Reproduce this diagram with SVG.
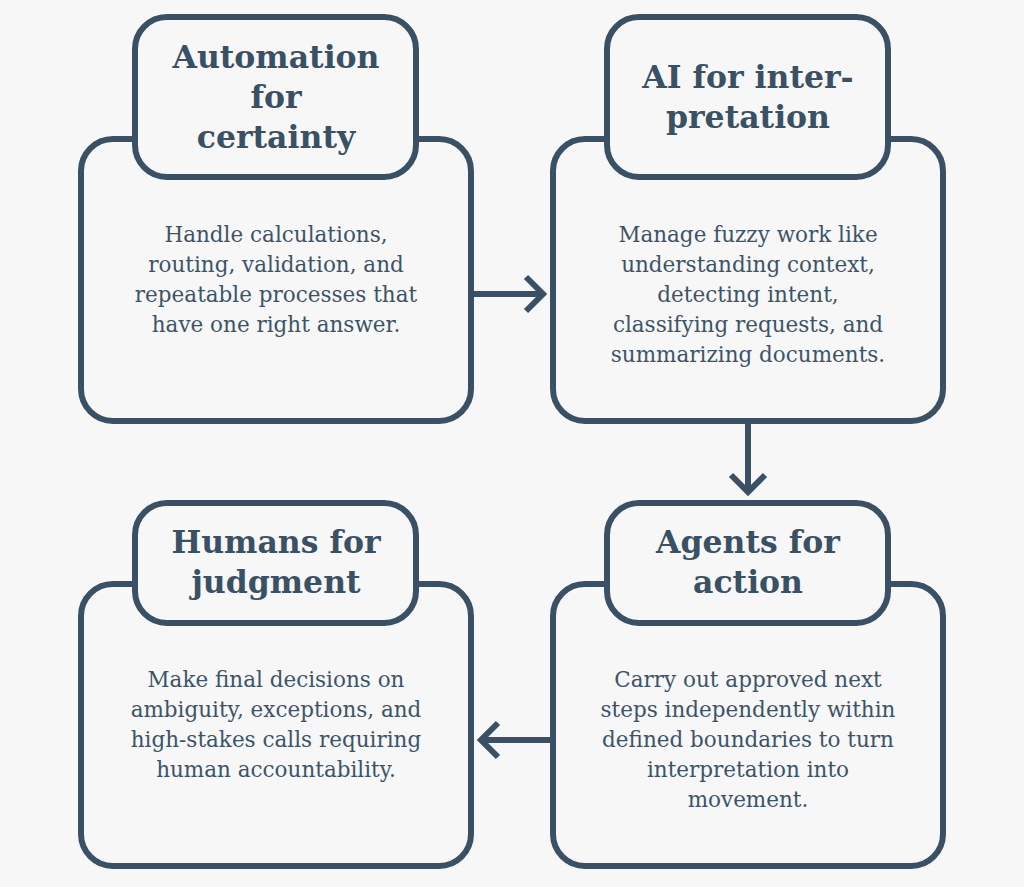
<svg xmlns="http://www.w3.org/2000/svg" width="1024" height="887" viewBox="0 0 1024 887">
  <style>
    .box { fill: #f7f7f7; stroke: #3a5064; stroke-width: 6; }
    .title { font-family: "DejaVu Serif", "Liberation Serif", serif; font-weight: bold; font-size: 31.5px; fill: #3a5064; text-anchor: middle; }
    .body { font-family: "DejaVu Serif", "Liberation Serif", serif; font-size: 21.5px; fill: #3d5468; text-anchor: middle; }
    .conn { fill: none; stroke: #3a5064; stroke-width: 6; stroke-linejoin: miter; }
  </style>
  <rect x="0" y="0" width="1024" height="887" fill="#f7f7f7"/>

  <g id="connectors">
    <line class="conn" x1="474" y1="294" x2="542" y2="294"/>
    <polyline class="conn" points="526,277 543,294 526,311"/>
    <line class="conn" x1="748" y1="424" x2="748" y2="491"/>
    <polyline class="conn" points="731,475 748,492 765,475"/>
    <line class="conn" x1="550" y1="740" x2="482" y2="740"/>
    <polyline class="conn" points="498,723 481,740 498,757"/>
  </g>

  <g id="node-automation">
    <rect class="box" x="81" y="139" width="390" height="282" rx="32"/>
    <rect class="box" x="135" y="17" width="281" height="160" rx="32"/>
    <text class="title" x="276" y="68">Automation</text>
    <text class="title" x="276" y="108">for</text>
    <text class="title" x="276" y="148">certainty</text>
    <text class="body" x="276" y="242">Handle calculations,</text>
    <text class="body" x="276" y="272">routing, validation, and</text>
    <text class="body" x="276" y="302">repeatable processes that</text>
    <text class="body" x="276" y="332">have one right answer.</text>
  </g>

  <g id="node-ai">
    <rect class="box" x="553" y="139" width="390" height="282" rx="32"/>
    <rect class="box" x="607" y="17" width="281" height="160" rx="32"/>
    <text class="title" x="748" y="88">AI for inter-</text>
    <text class="title" x="748" y="128">pretation</text>
    <text class="body" x="748" y="242">Manage fuzzy work like</text>
    <text class="body" x="748" y="272">understanding context,</text>
    <text class="body" x="748" y="302">detecting intent,</text>
    <text class="body" x="748" y="332">classifying requests, and</text>
    <text class="body" x="748" y="362">summarizing documents.</text>
  </g>

  <g id="node-agents">
    <rect class="box" x="553" y="584" width="390" height="282" rx="32"/>
    <rect class="box" x="607" y="503" width="281" height="120" rx="32"/>
    <text class="title" x="748" y="553">Agents for</text>
    <text class="title" x="748" y="593">action</text>
    <text class="body" x="748" y="687">Carry out approved next</text>
    <text class="body" x="748" y="717">steps independently within</text>
    <text class="body" x="748" y="747">defined boundaries to turn</text>
    <text class="body" x="748" y="777">interpretation into</text>
    <text class="body" x="748" y="807">movement.</text>
  </g>

  <g id="node-humans">
    <rect class="box" x="81" y="584" width="390" height="282" rx="32"/>
    <rect class="box" x="135" y="503" width="281" height="120" rx="32"/>
    <text class="title" x="276" y="553">Humans for</text>
    <text class="title" x="276" y="593">judgment</text>
    <text class="body" x="276" y="687">Make final decisions on</text>
    <text class="body" x="276" y="717">ambiguity, exceptions, and</text>
    <text class="body" x="276" y="747">high-stakes calls requiring</text>
    <text class="body" x="276" y="777">human accountability.</text>
  </g>
</svg>
